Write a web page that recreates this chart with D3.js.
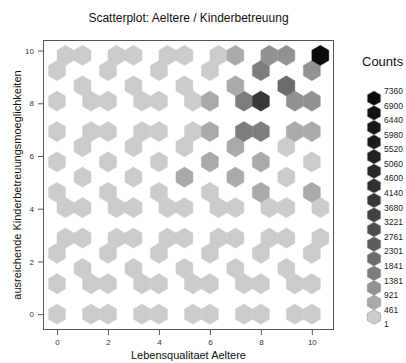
<!DOCTYPE html>
<html><head><meta charset="utf-8">
<script src="https://cdn.jsdelivr.net/npm/d3@7"></script>
<style>
body{margin:0;background:#fff;}
svg text{font-family:"Liberation Sans",Arial,Helvetica,sans-serif;}
</style></head><body>
<svg id="chart" width="406" height="363"></svg>
<script>
// ---------------- data ----------------
const xValues = [0, 1, 2, 3, 4, 5, 6, 7, 8, 9, 10];
const yValues = [0, 1, 2, 3, 4, 5, 6, 7, 8, 9, 10];
// counts per answer pair, one array per y value (index = x value)
const countsY0  = [180, 15, 20, 25, 30, 60, 55, 60, 55, 30, 120];
const countsY1  = [20, 8, 12, 15, 20, 45, 40, 45, 40, 25, 40];
const countsY2  = [25, 10, 20, 30, 40, 90, 100, 110, 100, 70, 90];
const countsY3  = [30, 12, 25, 35, 55, 130, 140, 170, 150, 90, 110];
const countsY4  = [25, 10, 20, 40, 70, 160, 180, 230, 210, 130, 150];
const countsY5  = [120, 40, 70, 110, 180, 880, 450, 640, 560, 300, 520];
const countsY6  = [30, 15, 28, 60, 100, 400, 600, 760, 650, 420, 390];
const countsY7  = [35, 18, 30, 65, 110, 360, 690, 1590, 1700, 820, 760];
const countsY8  = [40, 20, 35, 60, 90, 330, 640, 1620, 3920, 1200, 1140];
const countsY9  = [30, 15, 25, 40, 60, 200, 260, 720, 1610, 2060, 1160];
const countsY10 = [210, 45, 60, 80, 95, 380, 310, 700, 1150, 1180, 7360];
const countsByY = [countsY0, countsY1, countsY2, countsY3, countsY4, countsY5,
                   countsY6, countsY7, countsY8, countsY9, countsY10];
const xTicks = [0, 2, 4, 6, 8, 10];
const yTicks = [0, 2, 4, 6, 8, 10];
const legendLabels = [1, 461, 921, 1381, 1841, 2301, 2761, 3221, 3680, 4140,
                      4600, 5060, 5520, 5980, 6440, 6900, 7360];
const titleText = "Scatterplot: Aeltere / Kinderbetreuung";
const xLabelText = "Lebensqualitaet Aeltere";
const yLabelText = "ausreichende Kinderbetreuungsmoeglichkeiten";
const legendTitle = "Counts";

// ---------------- style ----------------
const palette = ["#cccccc", "#aaaaaa", "#929292", "#7d7d7d", "#6b6b6b", "#5c5c5c",
                 "#4e4e4e", "#424242", "#383838", "#303030", "#282828", "#212121",
                 "#1b1b1b", "#161616", "#111111", "#0c0c0c"];
const xbins = 15, shape = 1;
const plot = {left: 43, right: 334, top: 40, bottom: 330};

const svg = d3.select("#chart");

// points from the data arrays
const points = [];
yValues.forEach((y, i) => xValues.forEach((x, j) => points.push({x, y, n: countsByY[i][j]})));

// hexagon binning (same lattice rule as R's hexbin)
const xbnds = d3.extent(xValues), ybnds = d3.extent(yValues);
const c1 = xbins / (xbnds[1] - xbnds[0]);
const c2 = xbins * shape / ((ybnds[1] - ybnds[0]) * Math.sqrt(3));
const cellMap = new Map();
points.forEach(p => {
  const sx = c1 * (p.x - xbnds[0]), sy = c2 * (p.y - ybnds[0]);
  const j1 = Math.floor(sx + 0.5), i1 = Math.floor(sy + 0.5);
  const d1 = (sx - j1) ** 2 + 3 * (sy - i1) ** 2;
  let gx, gy;
  if (d1 < 0.25) { gx = j1; gy = i1; }
  else if (d1 > 1 / 3) { gx = Math.floor(sx) + 0.5; gy = Math.floor(sy) + 0.5; }
  else {
    const j2 = Math.floor(sx), i2 = Math.floor(sy);
    const d2 = (sx - j2 - 0.5) ** 2 + 3 * (sy - i2 - 0.5) ** 2;
    if (d1 <= d2) { gx = j1; gy = i1; } else { gx = j2 + 0.5; gy = i2 + 0.5; }
  }
  const key = gx + "_" + gy;
  if (!cellMap.has(key)) cellMap.set(key, {cx: xbnds[0] + gx / c1, cy: ybnds[0] + gy / c2, count: 0});
  cellMap.get(key).count += p.n;
});
const cells = Array.from(cellMap.values());

// scales
const x = d3.scaleLinear().domain([-0.55, 10.87]).range([plot.left, plot.right]);
const y = d3.scaleLinear().domain([-0.6, 10.4]).range([plot.bottom, plot.top]);
const color = d3.scaleThreshold().domain(legendLabels.slice(1, -1)).range(palette);

const hdx = 0.5 / c1;
const hdy = (1 / Math.sqrt(3)) / (2 * (xbins * shape / (ybnds[1] - ybnds[0])));
const hexOff = [[hdx, hdy], [0, 2 * hdy], [-hdx, hdy], [-hdx, -hdy], [0, -2 * hdy], [hdx, -hdy]];
const hexPath = c => "M" + hexOff.map(o => [x(c.cx + o[0]), y(c.cy + o[1])].join(",")).join("L") + "Z";

svg.append("g").selectAll("path").data(cells).join("path")
  .attr("d", hexPath)
  .attr("fill", d => color(d.count))
  .attr("stroke", d => color(d.count))
  .attr("stroke-width", 0.4);

// frame
svg.append("rect")
  .attr("x", plot.left + 0.5).attr("y", plot.top + 0.5)
  .attr("width", plot.right - plot.left - 1).attr("height", plot.bottom - plot.top - 1)
  .attr("fill", "none").attr("stroke", "#555").attr("stroke-width", 1);

// axes
const xAxis = svg.append("g").attr("transform", `translate(0,${plot.bottom})`)
  .call(d3.axisBottom(x).tickValues(xTicks).tickSize(5).tickPadding(4));
const yAxis = svg.append("g").attr("transform", `translate(${plot.left},0)`)
  .call(d3.axisLeft(y).tickValues(yTicks).tickSize(5).tickPadding(4));
[xAxis, yAxis].forEach(a => {
  a.select(".domain").remove();
  a.selectAll(".tick line").attr("stroke", "#555");
  a.selectAll(".tick text").attr("fill", "#333").attr("font-size", "8px")
    .style("font-family", "'Liberation Sans',Arial,sans-serif");
});

// titles
svg.append("text").attr("x", (plot.left + plot.right) / 2).attr("y", 22)
  .attr("text-anchor", "middle").attr("font-size", "12px").attr("fill", "#111").text(titleText);
svg.append("text").attr("x", (plot.left + plot.right) / 2).attr("y", 359)
  .attr("text-anchor", "middle").attr("font-size", "11px").attr("fill", "#111").text(xLabelText);
svg.append("text").attr("transform", `translate(21,${(plot.top + plot.bottom) / 2}) rotate(-90)`)
  .attr("text-anchor", "middle").attr("font-size", "11px").attr("fill", "#111").text(yLabelText);

// legend
svg.append("text").attr("x", 362).attr("y", 66).attr("font-size", "13px").attr("fill", "#111").text(legendTitle);
const ly = d3.scaleLinear().domain([legendLabels.length - 1, 0]).range([91, 324.3]);
const lw = 6.6;
const legendHex = (cy, r) => `M${374},${cy - r}L${374 + lw},${cy - r / 2}L${374 + lw},${cy + r / 2}L${374},${cy + r}L${374 - lw},${cy + r / 2}L${374 - lw},${cy - r / 2}Z`;
const lg = svg.append("g");
palette.forEach((c, k) => {
  const yTop = ly(k + 1), yBot = ly(k);
  lg.append("path").attr("d", legendHex((yTop + yBot) / 2, (yBot - yTop) / 2))
    .attr("fill", c).attr("stroke", "#888").attr("stroke-width", 0.5);
});
lg.selectAll("text.lab").data(legendLabels).join("text")
  .attr("class", "lab")
  .attr("x", 384).attr("y", (d, k) => ly(k) + 3)
  .attr("font-size", "8.5px").attr("fill", "#222").text(d => d);
</script>
</body></html>
